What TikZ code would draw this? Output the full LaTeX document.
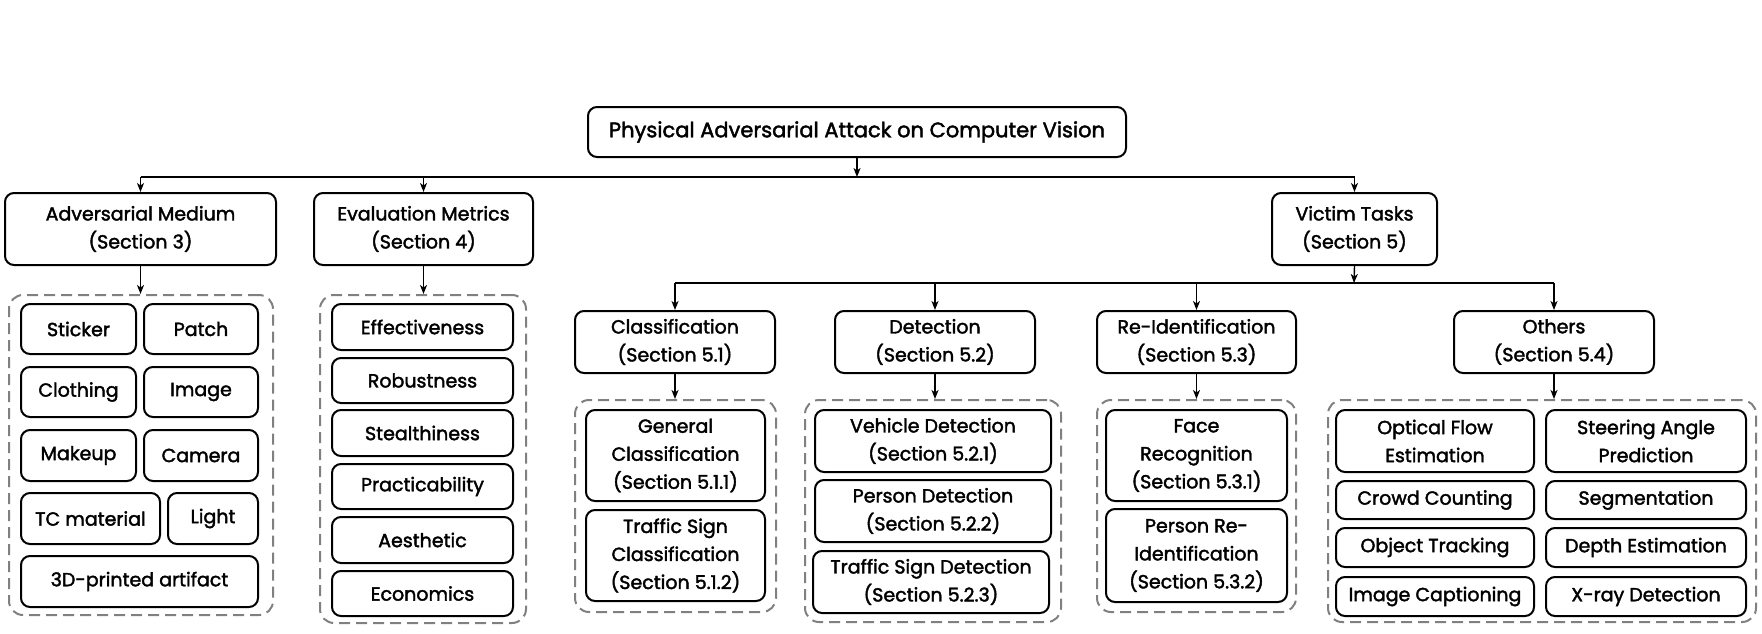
\documentclass[tikz,border=0pt]{standalone}
\usepackage{fontspec}
\setmainfont{Poppins}[FakeBold=2]
\usetikzlibrary{arrows.meta}
\tikzset{
 box/.style={draw=black, line width=2pt, rounded corners=9pt, align=center, inner sep=1pt, font=\fontsize{19}{28}\selectfont},
 rootbox/.style={box, font=\fontsize{21}{28}\selectfont},
 grp/.style={draw=black!50, line width=2pt, dash pattern=on 11pt off 6pt, rounded corners=14pt, inner sep=0pt},
 arr/.style={line width=1.4pt, -{Stealth[length=9pt,width=7pt,inset=2.5pt]}},
 ln/.style={line width=1.6pt},
}
\newcommand{\bx}[7][box]{\node[#1, minimum width={(#5-#3)*1pt}, minimum height={(#6-#4)*1pt}] (#2) at ({(#3+#5)/2},{(#4+#6)/2}) {#7};}
\begin{document}
\begin{tikzpicture}[x=1pt,y=-1pt]
\useasboundingbox (0,0) rectangle (1762,634);
% top levels
\bx[rootbox]{root}{588}{107}{1126}{157}{Physical Adversarial Attack on Computer Vision}
\bx{am}{5}{193}{276}{265}{Adversarial Medium\\(Section 3)}
\bx{em}{314}{193}{533}{265}{Evaluation Metrics\\(Section 4)}
\bx{vt}{1272}{193}{1437}{265}{Victim Tasks\\(Section 5)}
\bx{cl}{575}{311}{775}{373}{Classification\\(Section 5.1)}
\bx{de}{835}{311}{1035}{373}{Detection\\(Section 5.2)}
\bx{ri}{1097}{311}{1296}{373}{Re-Identification\\(Section 5.3)}
\bx{ot}{1454}{311}{1654}{373}{Others\\(Section 5.4)}
% groups
\bx[grp]{gA}{9}{295}{273}{615}{}
\bx[grp]{gE}{320}{295}{526}{623}{}
\bx[grp]{gC}{575}{400}{776}{612}{}
\bx[grp]{gD}{805}{400}{1061}{622}{}
\bx[grp]{gR}{1097}{400}{1296}{612}{}
\bx[grp]{gO}{1328}{400}{1756}{622}{}
% adversarial medium items
\bx{a1}{21}{304}{136}{354}{Sticker}
\bx{a2}{144}{304}{258}{354}{Patch}
\bx{a3}{21}{367}{136}{417}{Clothing}
\bx{a4}{144}{367}{258}{417}{Image}
\bx{a5}{21}{430}{136}{481}{Makeup}
\bx{a6}{144}{430}{258}{481}{Camera}
\bx{a7}{21}{493}{160}{544}{TC material}
\bx{a8}{168}{493}{258}{544}{Light}
\bx{a9}{21}{556}{258}{607}{3D-printed artifact}
% evaluation metrics items
\bx{e1}{332}{304}{513}{350}{Effectiveness}
\bx{e2}{332}{358}{513}{403}{Robustness}
\bx{e3}{332}{410}{513}{456}{Stealthiness}
\bx{e4}{332}{464}{513}{509}{Practicability}
\bx{e5}{332}{517}{513}{563}{Aesthetic}
\bx{e6}{332}{571}{513}{616}{Economics}
% classification items
\bx{c1}{586}{410}{765}{501}{General\\Classification\\(Section 5.1.1)}
\bx{c2}{586}{510}{765}{601}{Traffic Sign\\Classification\\(Section 5.1.2)}
% detection items
\bx{d1}{815}{410}{1051}{472}{Vehicle Detection\\(Section 5.2.1)}
\bx{d2}{815}{480}{1051}{542}{Person Detection\\(Section 5.2.2)}
\bx{d3}{813}{551}{1049}{613}{Traffic Sign Detection\\(Section 5.2.3)}
% re-id items
\bx{r1}{1106}{410}{1287}{501}{Face\\Recognition\\(Section 5.3.1)}
\bx{r2}{1106}{509}{1287}{602}{Person Re-\\Identification\\(Section 5.3.2)}
% others items
\bx{o1}{1336}{410}{1534}{472}{Optical Flow\\Estimation}
\bx{o2}{1546}{410}{1746}{472}{Steering Angle\\Prediction}
\bx{o3}{1336}{481}{1534}{519}{Crowd Counting}
\bx{o4}{1546}{481}{1746}{519}{Segmentation}
\bx{o5}{1336}{528}{1534}{567}{Object Tracking}
\bx{o6}{1546}{528}{1746}{567}{Depth Estimation}
\bx{o7}{1336}{577}{1534}{616}{Image Captioning}
\bx{o8}{1546}{577}{1746}{616}{X-ray Detection}
% connectors
\coordinate (h1) at (857,177);
\coordinate (h2) at (1354,283);
\draw[arr] (root.south) -- (h1);
\draw[ln] (am.north |- h1) -- (vt.north |- h1);
\draw[arr] (am.north |- h1) -- (am.north);
\draw[arr] (em.north |- h1) -- (em.north);
\draw[arr] (vt.north |- h1) -- (vt.north);
\draw[arr] (vt.south) -- (h2);
\draw[ln] (cl.north |- h2) -- (ot.north |- h2);
\draw[arr] (cl.north |- h2) -- (cl.north);
\draw[arr] (de.north |- h2) -- (de.north);
\draw[arr] (ri.north |- h2) -- (ri.north);
\draw[arr] (ot.north |- h2) -- (ot.north);
\draw[arr] (am.south) -- (am.south |- gA.north);
\draw[arr] (em.south) -- (em.south |- gE.north);
\draw[arr] (cl.south) -- (cl.south |- gC.north);
\draw[arr] (de.south) -- (de.south |- gD.north);
\draw[arr] (ri.south) -- (ri.south |- gR.north);
\draw[arr] (ot.south) -- (ot.south |- gO.north);
\end{tikzpicture}
\end{document}
